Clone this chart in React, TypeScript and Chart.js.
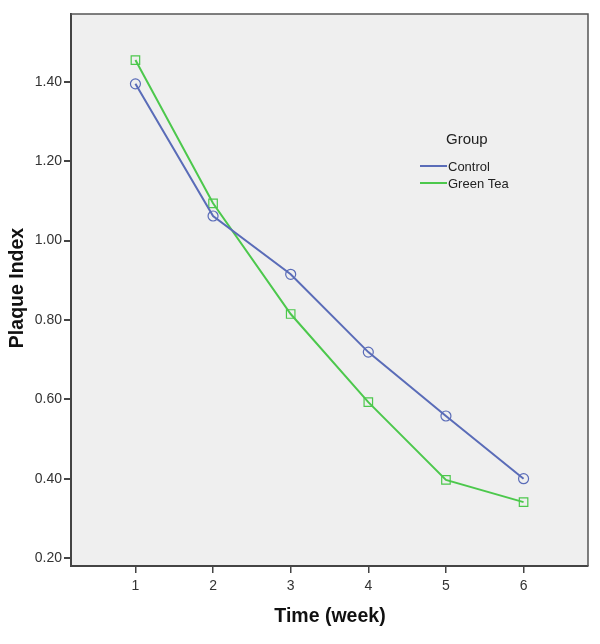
import React, { useEffect, useRef } from "react";
import { Chart, registerables } from "chart.js";

Chart.register(...registerables);

const weeks = [1, 2, 3, 4, 5, 6];
const controlValues = [1.395, 1.062, 0.915, 0.719, 0.558, 0.4];
const greenTeaValues = [1.455, 1.094, 0.815, 0.593, 0.397, 0.341];
const yTickValues = [0.2, 0.4, 0.6, 0.8, 1.0, 1.2, 1.4];
const seriesNames = ["Control", "Green Tea"];
const legendTitle = "Group";
const xTitle = "Time (week)";
const yTitle = "Plaque Index";

const BLUE = "#5a6cb8";
const GREEN = "#4cc84c";
const FONT = "'Liberation Sans', Arial, sans-serif";

const decor = {
  id: "decor",
  beforeDraw(chart: any) {
    const { ctx, chartArea } = chart;
    ctx.save();
    ctx.fillStyle = "#efefef";
    ctx.fillRect(chartArea.left, chartArea.top, chartArea.right - chartArea.left, chartArea.bottom - chartArea.top);
    ctx.restore();
  },
  afterDraw(chart: any) {
    const { ctx, chartArea } = chart;
    ctx.save();
    ctx.strokeStyle = "#555";
    ctx.lineWidth = 1.5;
    ctx.beginPath();
    ctx.moveTo(chartArea.left, chartArea.top);
    ctx.lineTo(chartArea.right, chartArea.top);
    ctx.lineTo(chartArea.right, chartArea.bottom);
    ctx.stroke();
    ctx.fillStyle = "#111";
    ctx.font = `bold 19.5px ${FONT}`;
    ctx.textAlign = "center";
    ctx.textBaseline = "middle";
    ctx.fillText(xTitle, 330, 617);
    ctx.translate(18, 288);
    ctx.rotate(-Math.PI / 2);
    ctx.fillText(yTitle, 0, 0);
    ctx.restore();
    ctx.save();
    ctx.fillStyle = "#222";
    ctx.font = `15px ${FONT}`;
    ctx.textAlign = "left";
    ctx.textBaseline = "middle";
    ctx.fillText(legendTitle, 446, 140);
    ctx.font = `13px ${FONT}`;
    const colors = [BLUE, GREEN];
    seriesNames.forEach((name, i) => {
      const y = 166 + i * 17;
      ctx.strokeStyle = colors[i];
      ctx.lineWidth = 2;
      ctx.beginPath();
      ctx.moveTo(420, y);
      ctx.lineTo(447, y);
      ctx.stroke();
      ctx.fillStyle = "#222";
      ctx.fillText(name, 448, y + 1);
    });
    ctx.restore();
  },
};

export default function App() {
  const ref = useRef<HTMLCanvasElement>(null);
  useEffect(() => {
    const toPts = (vals: number[]) => weeks.map((w, i) => ({ x: w, y: vals[i] }));
    const chart = new Chart(ref.current!, {
      type: "line",
      data: {
        datasets: [
          {
            label: seriesNames[0],
            data: toPts(controlValues),
            borderColor: BLUE,
            backgroundColor: "transparent",
            borderWidth: 2,
            pointStyle: "circle",
            pointRadius: 5,
            pointBorderWidth: 1.2,
            pointBorderColor: BLUE,
            pointBackgroundColor: "transparent",
          },
          {
            label: seriesNames[1],
            data: toPts(greenTeaValues),
            borderColor: GREEN,
            backgroundColor: "transparent",
            borderWidth: 2,
            pointStyle: "rect",
            pointRadius: 6,
            pointBorderWidth: 1.2,
            pointBorderColor: GREEN,
            pointBackgroundColor: "transparent",
          },
        ],
      },
      options: {
        animation: false,
        responsive: false,
        devicePixelRatio: 1,
        layout: { padding: { top: 14, right: 12, left: 0, bottom: 0 } },
        plugins: { legend: { display: false }, tooltip: { enabled: false } },
        scales: {
          x: {
            type: "linear",
            min: 0.17,
            max: 6.83,
            afterBuildTicks: (s: any) => {
              s.ticks = weeks.map((v) => ({ value: v }));
            },
            afterFit: (s: any) => {
              s.height = 78;
            },
            grid: { drawOnChartArea: false, drawTicks: true, tickLength: 7, color: "#444", lineWidth: 1.5 },
            border: { color: "#444", width: 2 },
            ticks: { color: "#333", font: { family: FONT, size: 14 }, padding: 5, callback: (v: any) => String(v) },
          },
          y: {
            type: "linear",
            min: 0.18,
            max: 1.571,
            afterBuildTicks: (s: any) => {
              s.ticks = yTickValues.map((v) => ({ value: v }));
            },
            afterFit: (s: any) => {
              s.width = 71;
            },
            grid: { drawOnChartArea: false, drawTicks: true, tickLength: 7, color: "#444", lineWidth: 2 },
            border: { color: "#444", width: 2 },
            ticks: { color: "#333", font: { family: FONT, size: 14 }, padding: 2, callback: (v: any) => Number(v).toFixed(2) },
          },
        },
      },
      plugins: [decor],
    });
    return () => chart.destroy();
  }, []);
  return (
    <div style={{ position: "fixed", left: 0, top: 0, width: 600, height: 644, background: "#fff" }}>
      <canvas ref={ref} width={600} height={644} style={{ width: 600, height: 644 }} />
    </div>
  );
}
